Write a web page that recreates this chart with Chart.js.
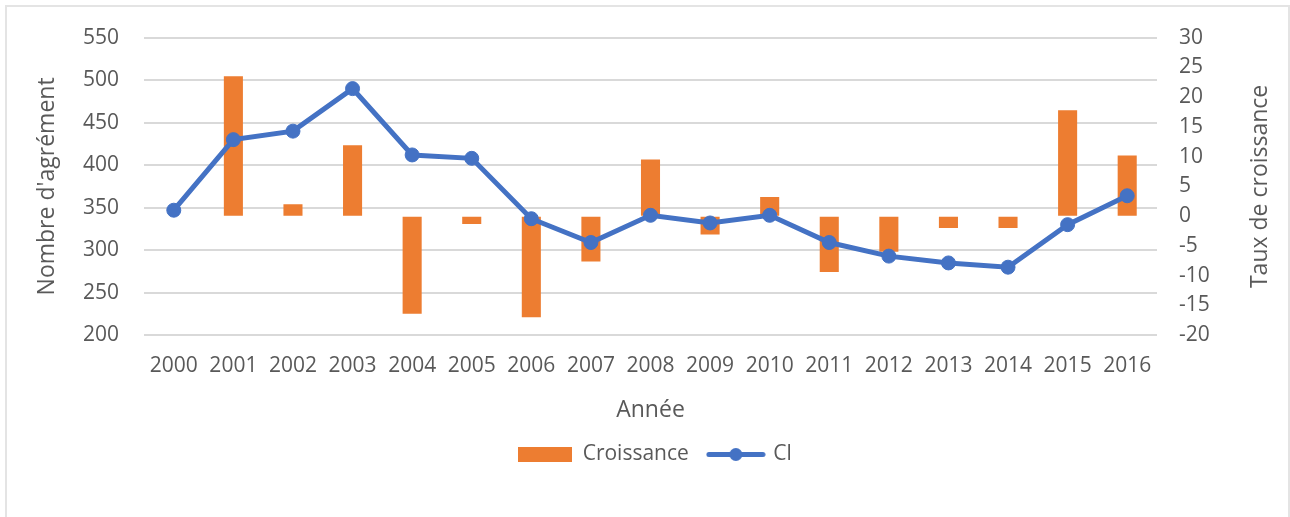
<!DOCTYPE html>
<html>
<head>
<meta charset="utf-8">
<script src="https://cdn.jsdelivr.net/npm/chart.js@4"></script>
<style>
    html, body { margin: 0; padding: 0; background: #fff; overflow: hidden; }
    #frame { position: absolute; left: 5px; top: 5px; width: 1281px; height: 600px; border: 2px solid #e4e4e4; }
    #chart { position: absolute; left: 0; top: 0; }
</style>
</head>
<body>
<div id="frame"></div>
<canvas id="chart" width="1290" height="517"></canvas>
<script>
const years = ['2000', '2001', '2002', '2003', '2004', '2005', '2006', '2007', '2008',
    '2009', '2010', '2011', '2012', '2013', '2014', '2015', '2016'];
const ciValues = [347, 430, 440, 490, 412, 408, 337, 309, 341, 332, 341, 309, 293, 285, 280, 330, 364];
const croissanceValues = [null, 23.5, 2.0, 11.9, -16.4, -1.3, -17.0, -7.6, 9.5, -3.1, 3.2, -9.4, -6.0, -2.0, -2.0, 17.8, 10.2];
const leftTicks = [200, 250, 300, 350, 400, 450, 500, 550];
const rightTicks = [-20, -15, -10, -5, 0, 5, 10, 15, 20, 25, 30];

const ORANGE = '#ED7D31';
const BLUE = '#4472C4';
const GREY_TEXT = '#595959';
const FONT = "'Open Sans', sans-serif";

// legend swatches drawn as little images
function makeSwatch(w, h, draw) {
    const c = document.createElement('canvas');
    c.width = w;
    c.height = h;
    draw(c.getContext('2d'));
    return c;
}
const barSwatch = makeSwatch(54, 15, g => {
    g.fillStyle = ORANGE;
    g.fillRect(0, 0, 54, 15);
});
const lineSwatch = makeSwatch(60, 15, g => {
    g.strokeStyle = BLUE;
    g.lineWidth = 5;
    g.lineCap = 'round';
    g.beginPath();
    g.moveTo(3, 7.5);
    g.lineTo(57, 7.5);
    g.stroke();
    g.fillStyle = BLUE;
    g.beginPath();
    g.arc(30, 7.5, 6.5, 0, Math.PI * 2);
    g.fill();
});

// Excel writes the right axis title bottom-to-top, Chart.js does the opposite
const rightTitle = {
    id: 'rightTitle',
    afterDraw(chart) {
        const { ctx, chartArea } = chart;
        ctx.save();
        ctx.translate(1260, (chartArea.top + chartArea.bottom) / 2);
        ctx.rotate(-Math.PI / 2);
        ctx.font = "23px 'Open Sans', sans-serif";
        ctx.fillStyle = GREY_TEXT;
        ctx.textAlign = 'center';
        ctx.textBaseline = 'middle';
        ctx.fillText('Taux de croissance', 0, 0);
        ctx.restore();
    }
};

Chart.defaults.font.family = FONT;
Chart.defaults.color = GREY_TEXT;

new Chart(document.getElementById('chart'), {
    type: 'bar',
    data: {
        labels: years,
        datasets: [
            {
                type: 'line',
                label: 'Cl',
                data: ciValues,
                yAxisID: 'y',
                borderColor: BLUE,
                backgroundColor: BLUE,
                borderWidth: 5,
                pointRadius: 7,
                pointBorderWidth: 1,
                pointBackgroundColor: BLUE,
                pointBorderColor: BLUE,
                tension: 0,
                order: 0
            },
            {
                type: 'bar',
                label: 'Croissance',
                data: croissanceValues,
                yAxisID: 'y1',
                backgroundColor: ORANGE,
                borderWidth: 0,
                barPercentage: 0.32,
                categoryPercentage: 1,
                order: 1
            }
        ]
    },
    options: {
        responsive: false,
        animation: false,
        layout: { padding: { top: 31, left: 20, right: 0, bottom: 42 } },
        plugins: {
            tooltip: { enabled: false },
            legend: {
                position: 'bottom',
                labels: {
                    usePointStyle: true,
                    pointStyleWidth: 54,
                    padding: 20,
                    font: { size: 21 },
                    color: GREY_TEXT,
                    generateLabels: () => [
                        { text: 'Croissance', pointStyle: barSwatch, fontColor: GREY_TEXT, lineWidth: 0, hidden: false, datasetIndex: 1 },
                        { text: 'Cl', pointStyle: lineSwatch, fontColor: GREY_TEXT, lineWidth: 0, hidden: false, datasetIndex: 0 }
                    ]
                }
            }
        },
        scales: {
            x: {
                grid: { display: false },
                border: { display: false },
                ticks: { font: { size: 21 }, color: GREY_TEXT, padding: 10, maxRotation: 0, autoSkip: false },
                title: { display: true, text: 'Année', font: { size: 23 }, color: GREY_TEXT, padding: { top: 8, bottom: 0 } }
            },
            y: {
                position: 'left',
                min: 200,
                max: 550,
                afterBuildTicks: axis => { axis.ticks = leftTicks.map(v => ({ value: v })); },
                afterFit: axis => { axis.width = 124; },
                grid: { color: '#d9d9d9', lineWidth: 2, drawTicks: false },
                border: { display: false },
                ticks: { font: { size: 21 }, color: GREY_TEXT, padding: 25, autoSkip: false },
                title: { display: true, text: "Nombre d'agrément", font: { size: 23 }, color: GREY_TEXT, padding: { top: 14, bottom: 0 } }
            },
            y1: {
                position: 'right',
                min: -20,
                max: 30,
                afterBuildTicks: axis => { axis.ticks = rightTicks.map(v => ({ value: v })); },
                afterFit: axis => { axis.width = 133; },
                grid: { drawOnChartArea: false, drawTicks: false },
                border: { display: false },
                ticks: { font: { size: 21 }, color: GREY_TEXT, padding: 22, autoSkip: false }
            }
        }
    },
    plugins: [rightTitle]
});
</script>
</body>
</html>
